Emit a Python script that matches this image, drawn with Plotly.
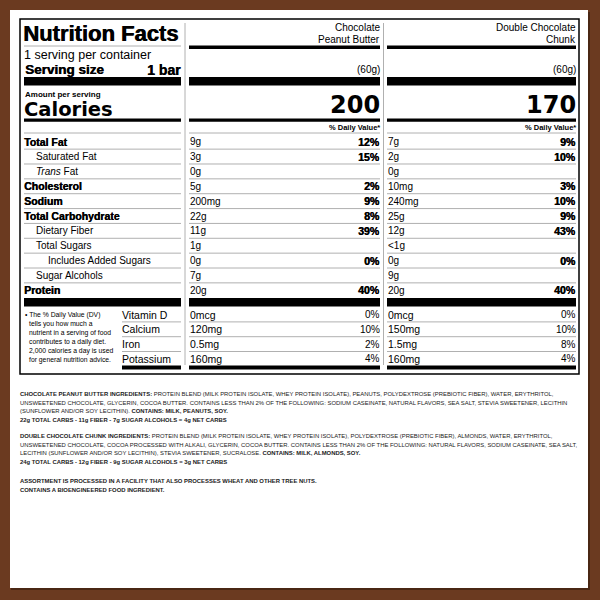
import plotly.graph_objects as go

# ---- label data ----
products = [["Chocolate", "Peanut Butter"], ["Double Chocolate", "Chunk"]]
serving_weight = ["(60g)", "(60g)"]
calories = [200, 170]

nutrients = ["Total Fat", "Saturated Fat", "<i>Trans</i> Fat", "Cholesterol", "Sodium",
             "Total Carbohydrate", "Dietary Fiber", "Total Sugars", "Includes Added Sugars",
             "Sugar Alcohols", "Protein"]
nutrient_bold = [True, False, False, True, True, True, False, False, False, False, True]
nutrient_indent = [0, 1, 1, 0, 0, 0, 1, 1, 2, 1, 0]
amounts_pb = ["9g", "3g", "0g", "5g", "200mg", "22g", "11g", "1g", "0g", "7g", "20g"]
dv_pb = ["12%", "15%", "", "2%", "9%", "8%", "39%", "", "0%", "", "40%"]
amounts_dc = ["7g", "2g", "0g", "10mg", "240mg", "25g", "12g", "&lt;1g", "0g", "9g", "20g"]
dv_dc = ["9%", "10%", "", "3%", "10%", "9%", "43%", "", "0%", "", "40%"]

vitamins = ["Vitamin D", "Calcium", "Iron", "Potassium"]
vit_amounts_pb = ["0mcg", "120mg", "0.5mg", "160mg"]
vit_dv_pb = ["0%", "10%", "2%", "4%"]
vit_amounts_dc = ["0mcg", "150mg", "1.5mg", "160mg"]
vit_dv_dc = ["0%", "10%", "8%", "4%"]

footnote = ["\u2022 The % Daily Value (DV)", "tells you how much a", "nutrient in a serving of food",
            "contributes to a daily diet.", "2,000 calories a day is used",
            "for general nutrition advice."]

ingredients = [
    "<b>CHOCOLATE PEANUT BUTTER INGREDIENTS:</b> PROTEIN BLEND (MILK PROTEIN ISOLATE, WHEY PROTEIN ISOLATE), PEANUTS, POLYDEXTROSE (PREBIOTIC FIBER), WATER, ERYTHRITOL,",
    "UNSWEETENED CHOCOLATE, GLYCERIN, COCOA BUTTER. CONTAINS LESS THAN 2% OF THE FOLLOWING: SODIUM CASEINATE, NATURAL FLAVORS, SEA SALT, STEVIA SWEETENER, LECITHIN",
    "(SUNFLOWER AND/OR SOY LECITHIN). <b>CONTAINS: MILK, PEANUTS, SOY.</b>",
    "<b>22g TOTAL CARBS - 11g FIBER - 7g SUGAR ALCOHOLS = 4g NET CARBS</b>",
    "<b>DOUBLE CHOCOLATE CHUNK INGREDIENTS:</b> PROTEIN BLEND (MILK PROTEIN ISOLATE, WHEY PROTEIN ISOLATE), POLYDEXTROSE (PREBIOTIC FIBER), ALMONDS, WATER, ERYTHRITOL,",
    "UNSWEETENED CHOCOLATE, COCOA PROCESSED WITH ALKALI, GLYCERIN, COCOA BUTTER. CONTAINS LESS THAN 2% OF THE FOLLOWING: NATURAL FLAVORS, SODIUM CASEINATE, SEA SALT,",
    "LECITHIN (SUNFLOWER AND/OR SOY LECITHIN), STEVIA SWEETENER, SUCRALOSE. <b>CONTAINS: MILK, ALMONDS, SOY.</b>",
    "<b>24g TOTAL CARBS - 12g FIBER - 9g SUGAR ALCOHOLS = 3g NET CARBS</b>",
    "<b>ASSORTMENT IS PROCESSED IN A FACILITY THAT ALSO PROCESSES WHEAT AND OTHER TREE NUTS.</b>",
    "<b>CONTAINS A BIOENGINEERED FOOD INGREDIENT.</b>",
]
ingredient_y = [394, 402.5, 411, 419.5, 436, 444.5, 453, 461.5, 481, 489.5]

# ---- styling ----
BROWN = "#6b3a20"
GRAY = "#b0b0b0"
ARIAL = "Liberation Sans, Arial, sans-serif"
HEAVY = "DejaVu Sans, sans-serif"
THICK = "0.4px 0 0 #000"

cols = [(24, 181), (189, 380), (387, 576)]
dividers = [185, 383.5]

fig = go.Figure()
shapes = []
notes = []


def text(x, y, s, size, anchor="left", family=ARIAL, bold=False, color="black", shadow=None):
    font = dict(family=family, size=size, color=color)
    if shadow:
        font["shadow"] = shadow
    notes.append(dict(x=x, y=y, xref="x", yref="y", text=("<b>%s</b>" % s) if bold else s,
                      showarrow=False, xanchor=anchor, yanchor="middle",
                      borderpad=0, borderwidth=0, font=font))


def hline(x0, x1, y, width=1, color=GRAY):
    shapes.append(dict(type="line", xref="x", yref="y", x0=x0, x1=x1, y0=y, y1=y,
                       line=dict(color=color, width=width)))


def bar(x0, x1, y0, y1, color="black"):
    shapes.append(dict(type="rect", xref="x", yref="y", x0=x0, x1=x1, y0=y0, y1=y1,
                       fillcolor=color, line=dict(width=0)))


# white sheet with a faint shadow
bar(11, 590, 12, 590, "#4a2714")
bar(10, 588, 10, 588, "white")

# outer border of the facts panel
shapes.append(dict(type="rect", xref="x", yref="y", x0=20, x1=579, y0=19, y1=374,
                   line=dict(color="black", width=1.5)))
for dx in dividers:
    shapes.append(dict(type="line", xref="x", yref="y", x0=dx, x1=dx, y0=23, y1=365,
                       line=dict(color=GRAY, width=1)))

# header block
text(23, 33, "Nutrition Facts", 22, bold=True, shadow="0.7px 0 0 #000")
hline(24, 181, 46)
for (x0, x1), name, wt, cal in zip(cols[1:], products, serving_weight, calories):
    text(x1, 27, name[0], 10, "right")
    text(x1, 39.5, name[1], 10, "right")
    bar(x0, x1, 45.5, 49)
    text(x1, 69.5, wt, 10, "right")
    text(x1, 105, str(cal), 24, "right", family=HEAVY, bold=True)
    text(x1, 127, "% Daily Value*", 7.5, "right", bold=True)

text(24, 55, "1 serving per container", 12.5)
text(25, 69.5, "Serving size", 13.5, bold=True, shadow=THICK)
text(181, 69.5, "1 bar", 14, "right", bold=True, shadow=THICK)
text(25, 94, "Amount per serving", 8, bold=True)
text(24, 109, "Calories", 19.5, family=HEAVY, bold=True)

for x0, x1 in cols:
    bar(x0, x1, 77, 85.5)
    bar(x0, x1, 118.5, 121.8)
    hline(x0, x1, 133)

# nutrient rows
row0, step = 141.7, 14.86
columns_data = [(amounts_pb, dv_pb), (amounts_dc, dv_dc)]
for i, name in enumerate(nutrients):
    y = row0 + i * step
    bold = nutrient_bold[i]
    text(24 + 12 * nutrient_indent[i], y, name, 10.5 if bold else 10,
         bold=bold, shadow=THICK if bold else None)
    for (x0, x1), (amt, dv) in zip(cols[1:], columns_data):
        text(x0 + 1, y, amt[i], 10)
        if dv[i]:
            text(x1, y, dv[i], 10.5, "right", bold=True, shadow=THICK)
    if i < len(nutrients) - 1:
        for x0, x1 in cols:
            hline(x0, x1, y + step / 2)

for x0, x1 in cols:
    bar(x0, x1, 298, 306.5)

# vitamins and minerals
vit0, vstep = 314.5, 14.8
vit_data = [(vit_amounts_pb, vit_dv_pb), (vit_amounts_dc, vit_dv_dc)]
vcols = [(122, 181)] + cols[1:]
for i, name in enumerate(vitamins):
    y = vit0 + i * vstep
    text(122, y, name, 10.5)
    for (x0, x1), (amt, dv) in zip(cols[1:], vit_data):
        text(x0 + 1, y, amt[i], 10.5)
        text(x1, y, dv[i], 10, "right")
    if i < len(vitamins) - 1:
        for x0, x1 in vcols:
            hline(x0, x1, y + vstep / 2)
for x0, x1 in vcols:
    bar(x0, x1, 365.5, 369.5)

for i, line in enumerate(footnote):
    text(25 if i == 0 else 29, 315 + i * 8.9, line, 6.8)

# ingredient statements
for line, y in zip(ingredients, ingredient_y):
    text(20, y, line, 5.9, color="#1a1a1a")

fig.update_layout(
    width=600, height=600,
    margin=dict(l=0, r=0, t=0, b=0),
    paper_bgcolor=BROWN, plot_bgcolor=BROWN,
    xaxis=dict(range=[0, 600], visible=False, fixedrange=True),
    yaxis=dict(range=[600, 0], visible=False, fixedrange=True),
    shapes=shapes, annotations=notes, showlegend=False,
)
fig.write_html("out.html", config={"displayModeBar": False},
               post_script="document.body.style.margin='0';document.body.style.overflow='hidden';")
